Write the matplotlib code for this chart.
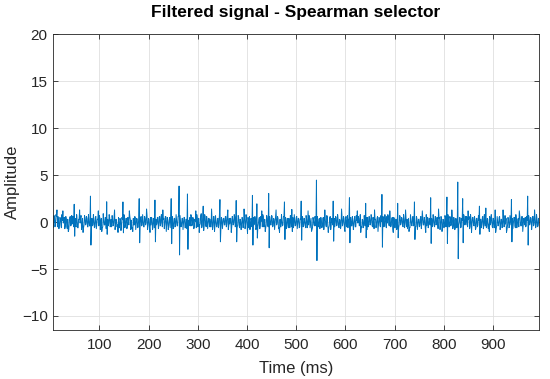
import numpy as np
import matplotlib
matplotlib.use("Agg")
import matplotlib.pyplot as plt

# ---- data ----
t_start_ms = 5.0
dt_ms = 1.0

# background noise (tenths of amplitude units), even-numbered samples
noise_even_tenths = [
    3,-4,5,-2,6,-5,1,-3,4,-6,2,-1,5,-4,3,-7,4,-2,6,-3,
    -2,5,-3,4,-5,2,-6,3,-1,7,-4,2,-3,5,-2,4,-5,1,-4,6,
    4,-3,2,-5,6,-2,3,-4,5,-1,8,-5,2,-3,4,-6,3,-2,5,-4,
    -5,3,-2,6,-4,1,-3,5,-6,2,-4,3,-1,6,-3,4,-5,2,-7,3,
    2,-6,4,-3,5,-2,3,-5,1,-4,6,-3,2,-5,4,-1,7,-4,3,-2,
    -3,4,-6,2,-5,3,-2,5,-4,6,-1,3,-5,4,-2,6,-3,1,-4,5,
    5,-2,3,-6,4,-3,2,-4,6,-5,1,-3,4,-2,5,-6,3,-4,2,-1,
    -4,6,-2,3,-5,1,-6,4,-3,5,-2,9,-4,2,-3,6,-5,3,-1,4,
    3,-5,2,-4,6,-3,1,-5,4,-2,5,-6,3,-1,4,-3,6,-2,5,-4,
    -2,4,-5,3,-1,6,-4,2,-3,5,-6,1,-4,3,-2,5,-3,4,-6,2,
    6,-3,2,-4,5,-1,3,-6,4,-2,5,-3,1,-5,6,-4,2,-3,4,-5,
    -5,2,-3,6,-4,3,-1,5,-2,4,-6,3,-5,1,-3,6,-2,4,-4,3,
    4,-6,3,-2,5,-4,2,-3,6,-1,4,-5,3,-2,5,-4,1,-6,3,-3,
    -3,5,-1,4,-6,2,-4,3,-2,6,-5,4,-3,1,-4,5,-2,3,-5,6,
    2,-4,6,-3,1,-5,4,-2,5,-3,3,-6,2,-4,5,-1,4,-3,6,-2,
    -6,3,-2,5,-4,1,-3,6,-5,2,-1,4,-3,5,-6,2,-4,3,-2,5,
    5,-3,4,-1,6,-5,2,-4,3,-2,6,-3,4,-5,1,-2,5,-4,3,-6,
    -1,6,-4,2,-3,5,-2,4,-6,3,-5,2,-3,6,-1,4,-5,3,-2,4,
    3,-2,5,-6,2,-4,6,-3,1,-5,4,-2,3,-4,6,-1,5,-3,2,-5,
    -4,5,-3,1,-6,4,-2,3,-5,6,-1,2,-4,5,-3,4,-6,2,-3,5,
    6,-1,3,-5,4,-2,5,-4,2,-6,3,-3,5,-1,4,-5,2,-4,6,-2,
    -3,4,-2,6,-5,3,-1,5,-4,2,-6,4,-3,2,-5,3,-2,6,-4,1,
    4,-5,3,-2,6,-1,4,-6,2,-3,5,-4,1,-2,6,-5,3,-4,2,-3,
    -2,6,-4,3,-5,2,-3,4,-1,5,-6,3,-2,4,-5,1,-4,6,-3,2,
    5,-4,2,-6,3,-1,4,-3,6,-2,5,-5,3,-4,2,-1,6,-3,4,-2,
]
# background noise (tenths of amplitude units), odd-numbered samples
noise_odd_tenths = [
    -6,7,-5,8,-4,6,-7,5,-3,8,-6,4,-7,6,-5,3,-8,5,-4,7,
    6,-5,7,-4,8,-6,3,-7,5,-8,4,-6,7,-3,6,-5,8,-4,5,-7,
    -4,8,-6,5,-7,3,-5,7,-8,4,-6,9,-3,5,-7,6,-4,8,-5,3,
    7,-4,6,-8,3,-5,7,-6,4,-9,5,-3,8,-6,4,-7,5,-3,6,-8,
    -7,5,-3,6,-8,4,-6,3,-7,5,-4,8,-5,6,-3,7,-8,4,-6,5,
    5,-8,4,-6,7,-3,5,-7,6,-4,8,-5,3,-7,6,-4,5,-8,3,-6,
    -3,6,-7,4,-5,8,-4,6,-3,7,-5,4,-8,5,-6,3,-7,8,-4,5,
    8,-4,5,-7,3,-6,8,-5,4,-3,7,-6,5,-4,8,-3,6,-7,4,-5,
    -5,3,-8,6,-4,7,-5,3,-6,8,-4,5,-7,4,-3,6,-5,7,-8,4,
    4,-7,6,-3,8,-5,4,-6,7,-4,3,-8,5,-6,4,-7,8,-3,5,-6,
    -8,4,-5,7,-3,6,-8,4,-5,3,-7,6,-4,8,-5,3,-6,7,-4,5,
    6,-3,7,-5,4,-8,5,-3,6,-7,4,-5,8,-4,6,-3,5,-7,4,-6,
    -4,7,-5,3,-6,8,-4,5,-7,4,-6,3,-8,6,-5,4,-3,7,-6,5,
    7,-6,4,-8,5,-3,6,-4,8,-5,3,-7,5,-6,4,-8,6,-3,7,-4,
    -6,5,-8,4,-3,7,-5,6,-4,8,-5,3,-7,5,-4,6,-8,4,-5,7,
    3,-7,5,-4,6,-8,4,-5,7,-3,6,-4,8,-5,3,-6,7,-4,5,-8,
    -5,6,-3,8,-4,5,-7,3,-6,4,-8,5,-4,7,-3,6,-5,8,-4,6,
    8,-3,6,-5,4,-7,5,-6,3,-8,4,-6,7,-3,5,-4,8,-6,4,-5,
    -7,4,-6,8,-3,5,-4,7,-5,6,-8,3,-5,4,-7,6,-3,5,-6,8,
    5,-6,4,-3,7,-5,8,-4,6,-3,5,-7,4,-8,6,-4,3,-6,7,-5,
    -3,8,-5,6,-4,3,-7,5,-8,4,-6,7,-3,5,-6,4,-5,8,-3,6,
    6,-5,3,-7,8,-4,5,-3,6,-8,4,-5,7,-4,3,-6,5,-7,8,-4,
    -6,4,-7,5,-3,8,-5,4,-6,3,-7,6,-4,5,-8,3,-6,4,-5,7,
    4,-8,5,-6,7,-3,4,-7,5,-4,8,-6,3,-5,7,-4,6,-8,4,-3,
    -5,6,-4,7,-3,5,-8,6,-4,3,-6,8,-5,4,-7,3,-5,6,-8,4,
]

# smaller excursions poking out of the noise band: time (ms), value
minor_times = [14, 26, 37, 60, 67, 98, 105, 131, 138, 161, 168, 196, 203,
               229, 236, 296, 303, 328, 334, 361, 368, 394, 401, 430, 437,
               459, 466, 524, 531, 558, 565, 592, 599, 624, 631, 659, 666,
               690, 697, 722, 729, 756, 763, 789, 796, 816, 849, 856, 885,
               892, 920, 927, 953, 960, 984]
minor_vals = [1.3, 1.2, -1.0, 1.3, -1.1, 1.2, -1.0, 1.3, -1.1, 1.2, -1.0,
              1.4, -1.1, 1.3, -1.0, 1.2, -1.1, 1.4, -1.0, 1.3, -1.1, 1.4,
              -1.2, 1.2, -1.0, 1.3, -1.1, 1.2, -1.0, 1.3, -1.1, 1.4, -1.0,
              1.2, -1.1, 1.3, -1.0, 1.2, -1.1, 1.3, -1.0, 1.2, -1.1, 1.4,
              -1.0, 1.3, 1.2, -1.1, 1.5, -1.0, 1.3, -1.1, 1.2, -1.0, 1.3]

# spikes: time (ms), positive peak, negative peak
spike_times = [48.6, 81.7, 115, 148, 180.7, 213, 245.6, 262, 279.5, 311,
               345, 377.6, 410.8, 420, 444, 476, 490.6, 509.6, 541.4, 575.3,
               608.4, 641.5, 674, 706.5, 739.6, 772.8, 806, 828.4, 838.5, 871.7,
               904, 937.4, 970.5]
spike_pos = [1.9, 2.77, 2.17, 2.15, 2.5, 2.35, 2.5, 3.84, 3.0, 1.7,
             2.4, 2.3, 2.85, 1.95, 3.06, 2.15, 1.35, 2.24, 4.48, 2.24,
             2.6, 2.0, 2.95, 2.0, 2.15, 2.6, 2.67, 4.27, 2.5, 1.7,
             1.3, 2.4, 2.77]
spike_neg = [-1.5, -2.45, -1.3, -1.14, -2.2, -2.1, -2.3, -3.5, -2.9, -0.9,
             -2.1, -2.1, -2.45, -1.7, -2.74, -1.85, -1.0, -1.92, -4.1, -2.03,
             -2.2, -1.67, -2.67, -1.67, -1.85, -2.27, -2.27, -3.9, -2.2, -1.3,
             -1.1, -2.1, -2.45]

x_ticks = [100, 200, 300, 400, 500, 600, 700, 800, 900]
y_ticks = [-10, -5, 0, 5, 10, 15, 20]

# ---- build signal ----
n = min(len(noise_even_tenths), len(noise_odd_tenths))
signal = np.empty(2 * n)
signal[0::2] = np.array(noise_even_tenths[:n], dtype=float) / 10.0
signal[1::2] = np.array(noise_odd_tenths[:n], dtype=float) / 10.0
t = t_start_ms + dt_ms * np.arange(len(signal))
for tm, v in zip(minor_times, minor_vals):
    signal[int(np.argmin(np.abs(t - tm)))] = v
for ts, p, q in zip(spike_times, spike_pos, spike_neg):
    i = int(np.argmin(np.abs(t - ts)))
    signal[i] = p
    if i + 1 < len(signal):
        signal[i + 1] = q

# ---- plot ----
plt.rcParams['font.family'] = ['Liberation Sans', 'DejaVu Sans']
fig = plt.figure(figsize=(5.5, 3.79), dpi=100)
ax = fig.add_axes([0.0955, 0.1293, 0.8845, 0.7797])

ax.plot(t, signal, color='#0072BD', lw=0.7)

ax.set_xlim(5, 993)
ax.set_ylim(-11.5, 20)
ax.set_xticks(x_ticks)
ax.set_yticks(y_ticks)
ax.grid(True, color='#dfdfdf', lw=0.6)
ax.set_axisbelow(True)
ax.tick_params(direction='in', top=True, right=True, length=3.5,
               width=0.6, color='#262626', labelsize=11, labelcolor='#262626')
ax.tick_params(axis='x', pad=6)
for s in ax.spines.values():
    s.set_color('#262626')
    s.set_linewidth(0.6)

ax.set_xlabel('Time (ms)', fontsize=12, color='#262626', labelpad=6)
ax.set_ylabel('Amplitude', fontsize=12, color='#262626', labelpad=1)
ax.set_title('Filtered signal - Spearman selector', fontsize=12.5,
             fontweight='bold', color='#000000', pad=12.5)

fig.savefig('out.png', dpi=100)
